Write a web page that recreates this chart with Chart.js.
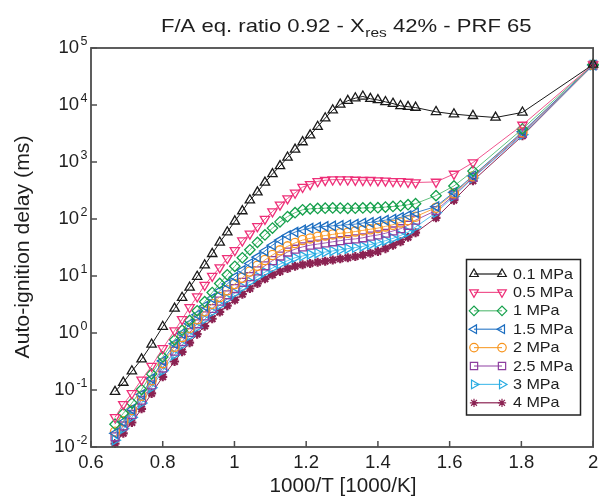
<!DOCTYPE html>
<html>
<head>
<meta charset="utf-8">
<script src="https://cdn.jsdelivr.net/npm/chart.js@4.4.1/dist/chart.umd.min.js"></script>
<style>
  html, body { margin: 0; padding: 0; background: #fff; }
  #wrap { width: 600px; height: 498px; }
</style>
</head>
<body>
<div id="wrap"><canvas id="delayChart" width="600" height="498"></canvas></div>
<script>
// 1000/T [1000/K] - same grid for every pressure
const invT = [0.667, 0.690, 0.714, 0.741, 0.769, 0.800, 0.833, 0.854, 0.875, 0.896,
  0.917, 0.938, 0.959, 0.980, 1.001, 1.022, 1.043, 1.064, 1.085, 1.106,
  1.127, 1.148, 1.169, 1.190, 1.211, 1.232, 1.253, 1.274, 1.295, 1.316,
  1.337, 1.358, 1.379, 1.400, 1.421, 1.442, 1.463, 1.484, 1.505, 1.562,
  1.612, 1.665, 1.728, 1.803, 2.0];

// auto-ignition delay (ms), one array per pressure
const delay01 = [0.0933, 0.135, 0.214, 0.347, 0.631, 1.29, 2.69, 4.17, 6.31, 9.77,
  15.5, 24.5, 38.9, 58.9, 91.2, 138, 214, 295, 437, 617,
  851, 1202, 1660, 2239, 2951, 4169, 5888, 8128, 10230, 11890,
  13180, 14130, 12880, 12250, 11350, 10590, 9660, 9330, 9020, 7590,
  6920, 6460, 6030, 7410, 51300];
const delay05 = [0.0331, 0.0562, 0.0871, 0.151, 0.263, 0.537, 1.10, 1.74, 2.82, 4.37,
  6.92, 10.0, 14.1, 20.4, 28.2, 41.7, 55.0, 74.1, 100, 135,
  178, 229, 288, 363, 407, 457, 479, 490, 490, 490,
  484, 479, 479, 473, 468, 457, 457, 447, 437, 447,
  617, 977, null, 4467, 51300];
const delay1 = [0.0251, 0.0389, 0.0589, 0.102, 0.191, 0.380, 0.759, 1.12, 1.66, 2.45,
  3.55, 5.13, 7.41, 10.5, 14.8, 20.9, 28.8, 38.9, 52.5, 69.2,
  89.1, 110, 129, 145, 151, 153, 155, 156, 155, 154,
  155, 156, 158, 158, 162, 166, 170, 178, 186, 257,
  380, 692, null, 3802, 51300];
const delay15 = [0.0174, 0.0275, 0.0457, 0.0832, 0.158, 0.324, 0.646, 0.977, 1.45, 2.09,
  2.95, 4.07, 5.50, 7.24, 9.55, 12.6, 16.6, 21.4, 27.5, 34.7,
  42.7, 51.3, 58.9, 64.6, 69.2, 72.4, 74.1, 75.9, 77.6, 79.4,
  81.3, 85.1, 87.1, 91.2, 95.5, 100, 107, 115, 129, 166,
  295, 575, null, 3388, 50100];
const delay2 = [0.0186, 0.0282, 0.0447, 0.0794, 0.148, 0.295, 0.575, 0.851, 1.23, 1.74,
  2.40, 3.24, 4.27, 5.62, 7.24, 9.33, 12.0, 15.1, 19.1, 23.4,
  28.2, 33.1, 38.0, 42.7, 45.7, 49.0, 51.3, 53.7, 56.2, 57.5,
  60.3, 63.1, 66.1, 69.2, 74.1, 79.4, 87.1, 95.5, 110, 158,
  282, 562, null, 3311, 50100];
const delay25 = [0.0151, 0.0234, 0.0372, 0.0661, 0.123, 0.245, 0.479, 0.708, 1.02, 1.45,
  2.00, 2.69, 3.63, 4.68, 6.03, 7.76, 9.77, 12.3, 15.1, 18.6,
  22.4, 26.3, 29.5, 32.4, 34.7, 36.3, 38.0, 39.8, 41.7, 43.7,
  44.7, 46.8, 50.1, 52.5, 56.2, 61.7, 67.6, 77.6, 95.5, 141,
  263, 537, null, 3162, 50100];
const delay3 = [0.0132, 0.0209, 0.0331, 0.0589, 0.110, 0.219, 0.417, 0.617, 0.891, 1.26,
  1.74, 2.34, 3.09, 3.98, 5.01, 6.31, 7.94, 9.77, 11.7, 13.8,
  16.2, 18.6, 20.9, 22.4, 24.0, 25.1, 26.3, 27.5, 28.8, 30.2,
  31.6, 33.1, 35.5, 38.0, 41.7, 45.7, 51.3, 58.9, 72.4, 129,
  251, 525, null, 3020, 50100];
const delay4 = [0.0115, 0.0174, 0.0269, 0.0468, 0.0871, 0.170, 0.316, 0.468, 0.676, 0.955,
  1.32, 1.78, 2.34, 3.02, 3.80, 4.79, 6.03, 7.41, 8.91, 10.5,
  12.0, 13.5, 14.8, 15.8, 16.6, 17.4, 18.2, 19.1, 20.0, 20.9,
  21.9, 23.4, 25.1, 26.9, 30.2, 34.7, 39.8, 47.9, 57.5, 105,
  214, 468, null, 2884, 50100];

const seriesLabels = ['0.1 MPa', '0.5 MPa', '1 MPa', '1.5 MPa', '2 MPa', '2.5 MPa', '3 MPa', '4 MPa'];
const seriesData = [delay01, delay05, delay1, delay15, delay2, delay25, delay3, delay4];

const xTicks = [0.6, 0.8, 1, 1.2, 1.4, 1.6, 1.8, 2];
const xTickLabels = ['0.6', '0.8', '1', '1.2', '1.4', '1.6', '1.8', '2'];
const yExponents = [-2, -1, 0, 1, 2, 3, 4, 5];
const yExpLabels = ['-2', '-1', '0', '1', '2', '3', '4', '5'];

// marker / line look per series
const seriesStyles = [
  { marker: '#1a1a1a', line: '#1a1a1a', shape: 'triangle', rot: 0,   r: 5.4, bw: 1.3 },
  { marker: '#ee2f78', line: '#f0558e', shape: 'triangle', rot: 180, r: 5.4, bw: 1.3 },
  { marker: '#14a04b', line: '#62c07e', shape: 'rectRot',  rot: 0,   r: 5.2, bw: 1.3 },
  { marker: '#1b6dc0', line: '#3a82cb', shape: 'triangle', rot: 270, r: 5.4, bw: 1.3 },
  { marker: '#f7941d', line: '#f8a640', shape: 'circle',   rot: 0,   r: 4.6, bw: 1.3 },
  { marker: '#8d3f9f', line: '#a25fb3', shape: 'rect',     rot: 0,   r: 5.6, bw: 1.3 },
  { marker: '#27aae1', line: '#55c0ec', shape: 'triangle', rot: 90,  r: 5.4, bw: 1.3 },
  { marker: '#8b2252', line: '#8b2252', shape: 'star',     rot: 0,   r: 4.5, bw: 2.2 }
];

const fontFamily = '"Liberation Sans", Arial, Helvetica, sans-serif';
const textColor = '#1e1e1e';
const axisColor = '#4d4d4d';

// draw a string squeezed/stretched to a given width
function fitText(ctx, text, cx, y, width) {
  const w = ctx.measureText(text).width;
  ctx.save();
  ctx.translate(cx, y);
  ctx.scale(width / w, 1);
  ctx.textAlign = 'center';
  ctx.fillText(text, 0, 0);
  ctx.restore();
}

const frameAndText = {
  id: 'frameAndText',
  afterDatasetsDraw(chart) {
    const { ctx, chartArea: a, scales: { x, y } } = chart;
    ctx.save();

    // box round the plot
    ctx.strokeStyle = axisColor;
    ctx.lineWidth = 1.8;
    ctx.strokeRect(a.left, a.top, a.right - a.left, a.bottom - a.top);

    // inward ticks on left and bottom
    ctx.lineWidth = 1.5;
    ctx.beginPath();
    xTicks.forEach(v => {
      const px = x.getPixelForValue(v);
      ctx.moveTo(px, a.bottom);
      ctx.lineTo(px, a.bottom - 6);
    });
    yExponents.forEach(e => {
      const py = y.getPixelForValue(Math.pow(10, e));
      ctx.moveTo(a.left, py);
      ctx.lineTo(a.left + 6, py);
    });
    ctx.stroke();

    ctx.fillStyle = textColor;
    ctx.textBaseline = 'alphabetic';

    // x tick labels
    ctx.font = '18.5px ' + fontFamily;
    ctx.textAlign = 'center';
    xTicks.forEach((v, i) => {
      ctx.fillText(xTickLabels[i], x.getPixelForValue(v), a.bottom + 21);
    });

    // y tick labels 10^n
    yExponents.forEach((e, i) => {
      const py = y.getPixelForValue(Math.pow(10, e));
      const right = a.left - 3.5;
      ctx.font = '12.5px ' + fontFamily;
      ctx.textAlign = 'right';
      const expW = ctx.measureText(yExpLabels[i]).width;
      ctx.fillText(yExpLabels[i], right, py - 3);
      ctx.font = '18.5px ' + fontFamily;
      ctx.fillText('10', right - expW - 1.5, py + 5);
    });

    // axis titles
    ctx.font = '20.5px ' + fontFamily;
    fitText(ctx, '1000/T [1000/K]', 343, 492, 147);
    ctx.save();
    ctx.translate(29, 247);
    ctx.rotate(-Math.PI / 2);
    fitText(ctx, 'Auto-ignition delay (ms)', 0, 0, 223);
    ctx.restore();

    // title with subscript
    const partA = 'F/A eq. ratio 0.92 - X';
    const partSub = 'res';
    const partB = ' 42% - PRF 65';
    ctx.font = '18.5px ' + fontFamily;
    const wA = ctx.measureText(partA).width;
    const wB = ctx.measureText(partB).width;
    ctx.font = '13px ' + fontFamily;
    const wS = ctx.measureText(partSub).width;
    const total = wA + wS + wB;
    const target = 370;
    const sx = target / total;
    ctx.save();
    ctx.translate(346 - target / 2, 31.5);
    ctx.scale(sx, 1);
    ctx.textAlign = 'left';
    ctx.font = '18.5px ' + fontFamily;
    ctx.fillText(partA, 0, 0);
    ctx.font = '13px ' + fontFamily;
    ctx.fillText(partSub, wA + 0.5, 5);
    ctx.font = '18.5px ' + fontFamily;
    ctx.fillText(partB, wA + wS + 0.5, 0);
    ctx.restore();

    ctx.restore();
  }
};

const legendBox = {
  id: 'legendBox',
  afterDraw(chart) {
    const { ctx } = chart;
    const left = 466.5, top = 259.5, right = 580.5, bottom = 415;
    ctx.save();
    ctx.fillStyle = '#fff';
    ctx.fillRect(left, top, right - left, bottom - top);
    ctx.strokeStyle = '#222';
    ctx.lineWidth = 1.5;
    ctx.strokeRect(left, top, right - left, bottom - top);

    ctx.font = '15px ' + fontFamily;
    ctx.textBaseline = 'middle';
    const scaleX = 60 / ctx.measureText('0.1 MPa').width;
    seriesLabels.forEach((label, i) => {
      const st = seriesStyles[i];
      const yy = 274 + i * 18.4;
      ctx.strokeStyle = st.line;
      ctx.lineWidth = 1.2;
      ctx.beginPath();
      ctx.moveTo(474, yy);
      ctx.lineTo(502, yy);
      ctx.stroke();
      ctx.strokeStyle = st.marker;
      ctx.fillStyle = 'rgba(0,0,0,0)';
      [474, 502].forEach(px => {
        Chart.helpers.drawPoint(ctx, {
          pointStyle: st.shape, rotation: st.rot, radius: st.r * 0.92, borderWidth: st.bw
        }, px, yy);
      });
      ctx.fillStyle = textColor;
      ctx.save();
      ctx.translate(513, yy + 0.5);
      ctx.scale(scaleX, 1);
      ctx.textAlign = 'left';
      ctx.fillText(label, 0, 0);
      ctx.restore();
    });
    ctx.restore();
  }
};

const datasets = seriesData.map((arr, i) => {
  const st = seriesStyles[i];
  return {
    label: seriesLabels[i],
    data: invT.map((t, k) => ({ x: t, y: arr[k] })),
    showLine: true,
    spanGaps: true,
    borderColor: st.line,
    borderWidth: 1,
    pointStyle: st.shape,
    rotation: st.rot,
    pointRadius: st.r,
    pointBorderWidth: st.bw,
    pointBorderColor: st.marker,
    pointBackgroundColor: 'rgba(0,0,0,0)',
    clip: 6
  };
});

new Chart(document.getElementById('delayChart'), {
  type: 'scatter',
  data: { datasets },
  options: {
    responsive: false,
    animation: false,
    layout: { padding: { top: 48, right: 4, left: 0, bottom: 0 } },
    plugins: {
      legend: { display: false },
      tooltip: { enabled: false },
      title: { display: false }
    },
    scales: {
      x: {
        type: 'linear', min: 0.6, max: 2,
        afterFit: s => { s.height = 51; },
        ticks: { display: false },
        grid: { display: false },
        border: { display: false }
      },
      y: {
        type: 'logarithmic', min: 0.01, max: 100000,
        afterBuildTicks: s => { s.ticks = yExponents.map(e => ({ value: Math.pow(10, e) })); },
        afterFit: s => { s.width = 91; },
        ticks: { display: false },
        grid: { display: false },
        border: { display: false }
      }
    }
  },
  plugins: [frameAndText, legendBox]
});
</script>
</body>
</html>
